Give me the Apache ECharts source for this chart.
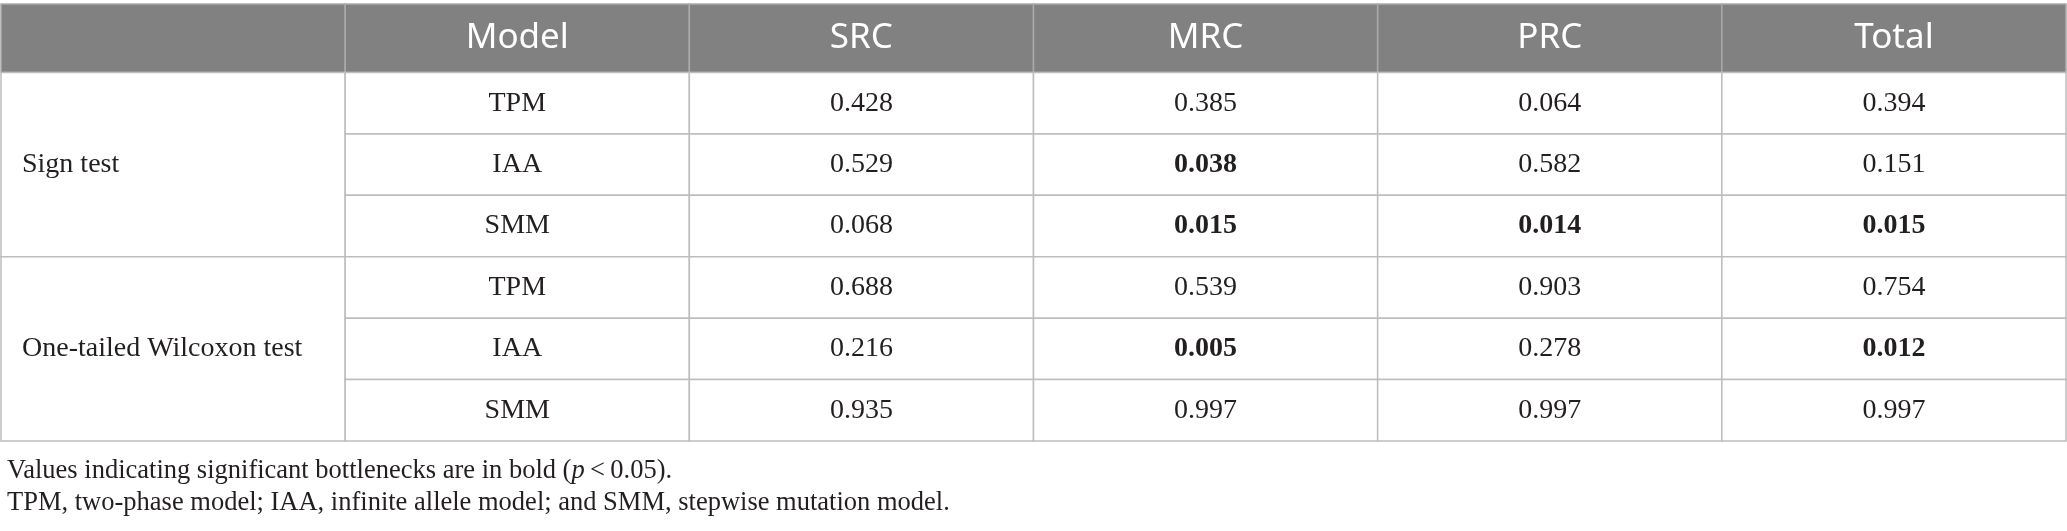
<!DOCTYPE html>
<html>
<head>
    <meta charset="utf-8">
    <title>Bottleneck tests</title>
    <script src="https://cdn.jsdelivr.net/npm/echarts@6/dist/echarts.min.js"></script>
    <style>
        html, body { margin: 0; padding: 0; background: #fff; }
        #chart1 { width: 2067px; height: 531px; }
    </style>
</head>
<body>
<div id="chart1"></div>
<script type="text/javascript">
    // table content
    var headers = ['', 'Model', 'SRC', 'MRC', 'PRC', 'Total'];
    var tests = ['Sign test', 'One-tailed Wilcoxon test'];
    var models = ['TPM', 'IAA', 'SMM'];
    var src = [0.428, 0.529, 0.068, 0.688, 0.216, 0.935];
    var mrc = [0.385, 0.038, 0.015, 0.539, 0.005, 0.997];
    var prc = [0.064, 0.582, 0.014, 0.903, 0.278, 0.997];
    var total = [0.394, 0.151, 0.015, 0.754, 0.012, 0.997];
    var alpha = 0.05; // bold when below
    var notes = [
        'Values indicating significant bottlenecks are in bold (',
        'TPM, two-phase model; IAA, infinite allele model; and SMM, stepwise mutation model.'
    ];

    var HEAD = 1.115; // header row is a bit taller than body rows
    var serif = '"Liberation Serif", "DejaVu Serif", serif';

    // build the cell list from the arrays above
    var cells = [];
    headers.forEach(function (h, i) {
        cells.push({ c: i, r0: 0, r1: HEAD, text: h, kind: 'head' });
    });
    tests.forEach(function (t, g) {
        cells.push({ c: 0, r0: HEAD + g * 3, r1: HEAD + g * 3 + 3, text: t, kind: 'test' });
    });
    var cols = [src, mrc, prc, total];
    for (var k = 0; k < src.length; k++) {
        var r0 = HEAD + k;
        cells.push({ c: 1, r0: r0, r1: r0 + 1, text: models[k % 3], kind: 'body' });
        cols.forEach(function (arr, j) {
            cells.push({
                c: 2 + j, r0: r0, r1: r0 + 1,
                text: arr[k].toFixed(3),
                kind: arr[k] < alpha ? 'bold' : 'body'
            });
        });
    }

    function renderCell(params, api) {
        var cell = cells[params.dataIndex];
        var p0 = api.coord([api.value(0), api.value(2)]);
        var p1 = api.coord([api.value(1), api.value(3)]);
        var x = Math.min(p0[0], p1[0]), y = Math.min(p0[1], p1[1]);
        var w = Math.abs(p1[0] - p0[0]), h = Math.abs(p1[1] - p0[1]);
        var head = cell.kind === 'head';
        var left = cell.kind === 'test';
        return {
            type: 'group',
            children: [{
                type: 'rect',
                shape: { x: x, y: y, width: w, height: h },
                style: {
                    fill: head ? '#808180' : '#fff',
                    stroke: head ? '#a9aaa9' : '#bdbdbd',
                    lineWidth: 1.5
                }
            }, {
                type: 'text',
                style: {
                    text: cell.text,
                    x: left ? x + 21 : x + w / 2,
                    y: y + h / 2,
                    align: left ? 'left' : 'center',
                    verticalAlign: 'middle',
                    textAlign: left ? 'left' : 'center',
                    textVerticalAlign: 'middle',
                    fill: head ? '#ffffff' : '#231f20',
                    fontSize: head ? 35 : 28,
                    fontFamily: head ? '"Noto Sans", sans-serif' : serif,
                    fontWeight: cell.kind === 'bold' ? 'bold' : 'normal'
                }
            }]
        };
    }

    var noteStyle = { fontSize: 26.5, fontFamily: serif, color: '#231f20', fontWeight: 'normal' };

    var myChart1 = echarts.init(document.getElementById('chart1'));
    myChart1.setOption({
        animation: false,
        title: [{
            text: '{a|' + notes[0] + '}{i|p}{a|\u2009<\u20090.05).}',
            left: 2,
            top: 453,
            textStyle: {
                fontWeight: 'normal',
                rich: {
                    a: noteStyle,
                    i: Object.assign({}, noteStyle, { fontStyle: 'italic' })
                }
            }
        }, {
            text: notes[1],
            left: 2,
            top: 485,
            textStyle: noteStyle
        }],
        grid: { left: 1, right: 1, top: 4, bottom: 90 },
        xAxis: { type: 'value', min: 0, max: headers.length, show: false },
        yAxis: { type: 'value', min: 0, max: HEAD + src.length, inverse: true, show: false },
        series: [{
            type: 'custom',
            clip: false,
            renderItem: renderCell,
            encode: { x: [0, 1], y: [2, 3] },
            data: cells.map(function (c) { return [c.c, c.c + 1, c.r0, c.r1]; })
        }]
    });
</script>
</body>
</html>
